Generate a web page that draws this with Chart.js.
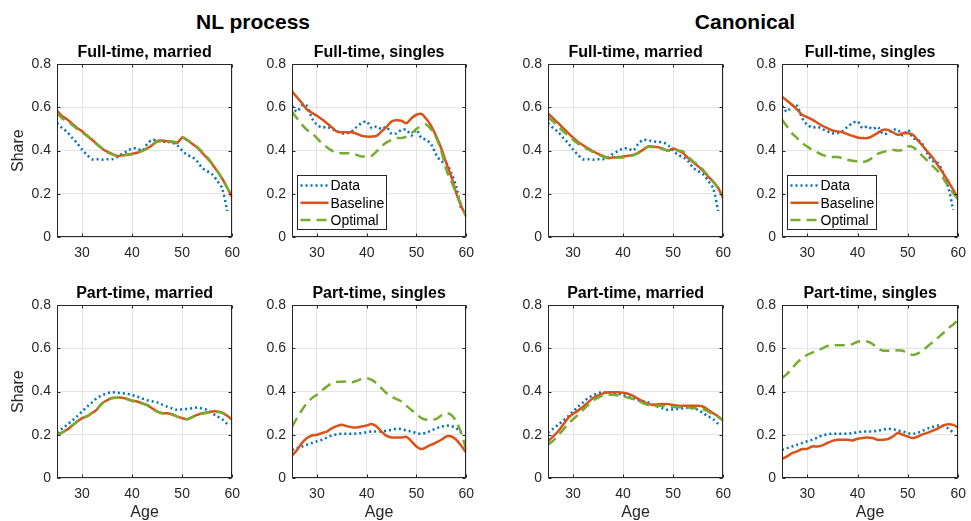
<!DOCTYPE html>
<html>
<head>
    <meta charset="utf-8"/>
    <title>Employment shares by age</title>
    <script src="https://cdn.jsdelivr.net/npm/chart.js"></script>
    <style>
        body {
            margin: 0;
            background-color: #ffffff;
            font-family: "Liberation Sans", Arial, Helvetica, sans-serif;
            overflow: hidden;
        }

        .page {
            position: relative;
            width: 971px;
            height: 521px;
        }

        .group-title {
            position: absolute;
            top: 10px;
            width: 300px;
            margin-left: -150px;
            text-align: center;
            font-size: 21px;
            line-height: 24px;
            font-weight: bold;
            color: #000000;
        }

        canvas {
            position: absolute;
        }
    </style>
</head>
<body>
    <div class="page" id="page">
        <div class="group-title" style="left: 253px;">NL process</div>
        <div class="group-title" style="left: 745px;">Canonical</div>
    </div>

    <script>
        // ages on the x axis
        const ages = [25, 26, 27, 28, 29, 30, 31, 32, 33, 34, 35, 36, 37, 38, 39, 40, 41, 42,
                      43, 44, 45, 46, 47, 48, 49, 50, 51, 52, 53, 54, 55, 56, 57, 58, 59, 60];
        const xTicks = [30, 40, 50, 60];
        const yTicks = [0, 0.2, 0.4, 0.6, 0.8];
        const seriesNames = ['Data', 'Baseline', 'Optimal'];

        // observed shares (same in both models)
        const dataFtMarried = [0.527, 0.505, 0.487, 0.46, 0.435, 0.405, 0.38, 0.36, 0.36, 0.358,
                               0.36, 0.36, 0.37, 0.385, 0.398, 0.41, 0.41, 0.40, 0.43, 0.45,
                               0.447, 0.443, 0.44, 0.438, 0.425, 0.40, 0.38, 0.37, 0.35, 0.32,
                               0.305, 0.29, 0.26, 0.225, 0.12, null];
        const dataFtSingles = [0.607, 0.58, 0.61, 0.607, 0.55, 0.52, 0.507, 0.51, 0.50, 0.489,
                               0.48, 0.48, 0.489, 0.51, 0.527, 0.535, 0.504, 0.512, 0.50, 0.51,
                               0.478, 0.48, 0.496, 0.496, 0.47, 0.496, 0.458, 0.45, 0.427, 0.38,
                               0.35, 0.342, 0.296, 0.234, 0.126, null];
        const dataPtMarried = [0.21, 0.228, 0.246, 0.265, 0.285, 0.308, 0.33, 0.35, 0.37, 0.383,
                               0.392, 0.397, 0.395, 0.393, 0.39, 0.384, 0.377, 0.368, 0.36, 0.355,
                               0.35, 0.34, 0.33, 0.322, 0.315, 0.318, 0.32, 0.323, 0.326, 0.322,
                               0.315, 0.30, 0.285, 0.272, 0.25, null];
        const dataPtSingles = [0.13, 0.138, 0.146, 0.154, 0.162, 0.17, 0.177, 0.187, 0.197, 0.202,
                               0.205, 0.205, 0.205, 0.206, 0.208, 0.212, 0.215, 0.215, 0.215, 0.219,
                               0.223, 0.228, 0.226, 0.22, 0.215, 0.208, 0.205, 0.21, 0.22, 0.23,
                               0.237, 0.243, 0.24, 0.23, 0.21, null];

        // NL process model
        const nlBaseFtMarried = [0.585, 0.56, 0.545, 0.525, 0.505, 0.49, 0.47, 0.45, 0.43, 0.41,
                                 0.395, 0.385, 0.375, 0.378, 0.382, 0.385, 0.39, 0.40, 0.41, 0.425,
                                 0.445, 0.447, 0.443, 0.44, 0.435, 0.46, 0.448, 0.432, 0.414, 0.39,
                                 0.365, 0.337, 0.305, 0.27, 0.228, 0.185];
        const nlOptFtMarried = [0.572, 0.55, 0.537, 0.52, 0.50, 0.485, 0.467, 0.448, 0.428, 0.41,
                                0.393, 0.383, 0.375, 0.377, 0.38, 0.383, 0.39, 0.398, 0.41, 0.425,
                                0.44, 0.445, 0.445, 0.442, 0.44, 0.462, 0.45, 0.435, 0.417, 0.395,
                                0.37, 0.34, 0.307, 0.27, 0.228, 0.185];
        const nlBaseFtSingles = [0.674, 0.647, 0.62, 0.59, 0.575, 0.561, 0.545, 0.527, 0.508, 0.489,
                                 0.485, 0.485, 0.485, 0.478, 0.468, 0.465, 0.465, 0.468, 0.489, 0.51,
                                 0.535, 0.54, 0.538, 0.527, 0.55, 0.566, 0.57, 0.546, 0.512, 0.465,
                                 0.41, 0.342, 0.28, 0.203, 0.142, 0.095];
        const nlOptFtSingles = [0.58, 0.55, 0.52, 0.496, 0.48, 0.458, 0.435, 0.416, 0.40, 0.39,
                                0.388, 0.388, 0.388, 0.38, 0.373, 0.373, 0.376, 0.396, 0.42, 0.438,
                                0.45, 0.458, 0.458, 0.465, 0.48, 0.50, 0.515, 0.52, 0.496, 0.458,
                                0.396, 0.311, 0.257, 0.203, 0.15, 0.095];
        const nlBasePtMarried = [0.20, 0.21, 0.223, 0.242, 0.26, 0.277, 0.285, 0.30, 0.318, 0.346,
                                 0.36, 0.37, 0.372, 0.372, 0.366, 0.358, 0.354, 0.346, 0.338, 0.323,
                                 0.308, 0.30, 0.30, 0.295, 0.285, 0.277, 0.272, 0.282, 0.292, 0.30,
                                 0.303, 0.308, 0.308, 0.303, 0.288, 0.27];
        const nlOptPtMarried = [0.198, 0.21, 0.225, 0.243, 0.262, 0.277, 0.287, 0.302, 0.32, 0.345,
                                0.36, 0.37, 0.371, 0.371, 0.366, 0.358, 0.353, 0.345, 0.336, 0.322,
                                0.307, 0.30, 0.299, 0.294, 0.284, 0.276, 0.272, 0.281, 0.29, 0.298,
                                0.302, 0.305, 0.306, 0.302, 0.288, 0.27];
        const nlBasePtSingles = [0.103, 0.13, 0.162, 0.185, 0.197, 0.20, 0.208, 0.215, 0.23, 0.24,
                                 0.246, 0.24, 0.235, 0.234, 0.238, 0.243, 0.25, 0.238, 0.215, 0.195,
                                 0.188, 0.188, 0.188, 0.19, 0.17, 0.146, 0.134, 0.143, 0.154, 0.165,
                                 0.177, 0.192, 0.192, 0.177, 0.149, 0.118];
        const nlOptPtSingles = [0.238, 0.277, 0.315, 0.346, 0.37, 0.385, 0.405, 0.423, 0.438, 0.445,
                                0.446, 0.446, 0.443, 0.45, 0.458, 0.462, 0.454, 0.438, 0.415, 0.392,
                                0.377, 0.365, 0.354, 0.334, 0.315, 0.297, 0.277, 0.27, 0.27, 0.274,
                                0.29, 0.30, 0.292, 0.262, 0.208, 0.13];

        // Canonical model
        const canBaseFtMarried = [0.573, 0.55, 0.528, 0.505, 0.482, 0.46, 0.44, 0.425, 0.41, 0.397,
                                  0.385, 0.375, 0.365, 0.368, 0.37, 0.373, 0.376, 0.38, 0.39, 0.404,
                                  0.419, 0.418, 0.416, 0.408, 0.40, 0.41, 0.40, 0.388, 0.365, 0.346,
                                  0.327, 0.305, 0.28, 0.255, 0.227, 0.18];
        const canOptFtMarried = [0.555, 0.535, 0.512, 0.49, 0.47, 0.45, 0.432, 0.418, 0.405, 0.393,
                                 0.382, 0.373, 0.367, 0.367, 0.368, 0.368, 0.372, 0.378, 0.388, 0.402,
                                 0.417, 0.416, 0.413, 0.407, 0.40, 0.404, 0.40, 0.396, 0.372, 0.35,
                                 0.334, 0.31, 0.283, 0.257, 0.225, 0.188];
        const canBaseFtSingles = [0.65, 0.631, 0.612, 0.59, 0.566, 0.555, 0.543, 0.529, 0.515, 0.504,
                                  0.493, 0.489, 0.485, 0.476, 0.468, 0.461, 0.458, 0.458, 0.468, 0.482,
                                  0.496, 0.496, 0.485, 0.473, 0.48, 0.48, 0.473, 0.447, 0.42, 0.392,
                                  0.365, 0.33, 0.296, 0.258, 0.219, 0.173];
        const canOptFtSingles = [0.543, 0.512, 0.48, 0.458, 0.435, 0.419, 0.404, 0.392, 0.38, 0.373,
                                 0.37, 0.37, 0.365, 0.358, 0.353, 0.35, 0.347, 0.353, 0.368, 0.385,
                                 0.393, 0.40, 0.404, 0.40, 0.404, 0.419, 0.416, 0.396, 0.373, 0.35,
                                 0.327, 0.304, 0.273, 0.234, 0.203, 0.173];
        const canBasePtMarried = [0.17, 0.192, 0.215, 0.246, 0.277, 0.297, 0.312, 0.33, 0.35, 0.37,
                                  0.382, 0.392, 0.397, 0.397, 0.397, 0.395, 0.39, 0.38, 0.366, 0.354,
                                  0.343, 0.338, 0.342, 0.343, 0.342, 0.338, 0.334, 0.334, 0.334, 0.334,
                                  0.334, 0.33, 0.315, 0.30, 0.285, 0.266];
        const canOptPtMarried = [0.154, 0.172, 0.197, 0.223, 0.25, 0.272, 0.292, 0.315, 0.338, 0.358,
                                 0.372, 0.382, 0.385, 0.385, 0.382, 0.377, 0.372, 0.366, 0.357, 0.346,
                                 0.338, 0.334, 0.334, 0.334, 0.33, 0.33, 0.328, 0.328, 0.326, 0.323,
                                 0.323, 0.318, 0.308, 0.292, 0.282, 0.266];
        const canBasePtSingles = [0.088, 0.10, 0.115, 0.123, 0.134, 0.135, 0.146, 0.146, 0.151, 0.162,
                                  0.172, 0.177, 0.177, 0.177, 0.174, 0.182, 0.185, 0.188, 0.185, 0.177,
                                  0.177, 0.18, 0.192, 0.208, 0.20, 0.192, 0.185, 0.192, 0.203, 0.21,
                                  0.22, 0.23, 0.243, 0.249, 0.246, 0.234];
        const canOptPtSingles = [0.462, 0.482, 0.508, 0.534, 0.554, 0.57, 0.58, 0.59, 0.60, 0.611,
                                 0.615, 0.615, 0.615, 0.615, 0.62, 0.631, 0.634, 0.632, 0.62, 0.60,
                                 0.59, 0.589, 0.589, 0.592, 0.589, 0.577, 0.57, 0.577, 0.592, 0.611,
                                 0.631, 0.65, 0.67, 0.692, 0.711, 0.731];

        // panel grid (plot area of each axes, in page pixels)
        const colLeft = [57, 292, 548, 782];
        const colWidth = [179, 178, 179, 180];
        const rowTop = [64, 305];
        const plotHeight = 173;

        const panels = [
            {col: 0, row: 0, title: 'Full-time, married', series: [dataFtMarried, nlBaseFtMarried, nlOptFtMarried]},
            {col: 1, row: 0, title: 'Full-time, singles', series: [dataFtSingles, nlBaseFtSingles, nlOptFtSingles], legend: true},
            {col: 2, row: 0, title: 'Full-time, married', series: [dataFtMarried, canBaseFtMarried, canOptFtMarried]},
            {col: 3, row: 0, title: 'Full-time, singles', series: [dataFtSingles, canBaseFtSingles, canOptFtSingles], legend: true},
            {col: 0, row: 1, title: 'Part-time, married', series: [dataPtMarried, nlBasePtMarried, nlOptPtMarried]},
            {col: 1, row: 1, title: 'Part-time, singles', series: [dataPtSingles, nlBasePtSingles, nlOptPtSingles]},
            {col: 2, row: 1, title: 'Part-time, married', series: [dataPtMarried, canBasePtMarried, canOptPtMarried]},
            {col: 3, row: 1, title: 'Part-time, singles', series: [dataPtSingles, canBasePtSingles, canOptPtSingles]}
        ];

        const lineStyles = [
            {color: '#0072BD', dash: [2, 3]},
            {color: '#D95319', dash: []},
            {color: '#77AC30', dash: [10, 6]}
        ];

        const axisColor = '#262626';
        const gridColor = '#e4e4e4';

        Chart.defaults.font.family = '"Liberation Sans", Arial, Helvetica, sans-serif';

        // matlab style box with inward ticks
        const axesBox = {
            id: 'axesBox',
            afterDatasetsDraw(chart) {
                const {ctx, chartArea: a, scales} = chart;
                const l = Math.round(a.left) + 0.5;
                const r = Math.round(a.right) - 0.5;
                const t = Math.round(a.top) + 0.5;
                const b = Math.round(a.bottom) - 0.5;
                ctx.save();
                ctx.strokeStyle = axisColor;
                ctx.lineWidth = 1;
                ctx.strokeRect(l, t, r - l, b - t);
                ctx.beginPath();
                xTicks.forEach(v => {
                    const px = Math.round(scales.x.getPixelForValue(v)) + 0.5;
                    ctx.moveTo(px, b); ctx.lineTo(px, b - 3);
                    ctx.moveTo(px, t); ctx.lineTo(px, t + 3);
                });
                yTicks.forEach(v => {
                    const py = Math.round(scales.y.getPixelForValue(v)) + 0.5;
                    ctx.moveTo(l, py); ctx.lineTo(l + 3, py);
                    ctx.moveTo(r, py); ctx.lineTo(r - 3, py);
                });
                ctx.stroke();
                ctx.restore();
            }
        };

        // legend box in the lower left corner of the plot
        const boxLegend = {
            id: 'boxLegend',
            afterDraw(chart, args, opts) {
                if (!opts.show) return;
                const {ctx, chartArea: a} = chart;
                const w = 89, h = 54;
                const bx = Math.round(a.left) + 5.5;
                const by = Math.round(a.bottom) - 7.5 - h;
                ctx.save();
                ctx.fillStyle = '#ffffff';
                ctx.fillRect(bx, by, w, h);
                ctx.strokeStyle = axisColor;
                ctx.lineWidth = 1;
                ctx.strokeRect(bx, by, w, h);
                ctx.font = '14px "Liberation Sans", Arial, sans-serif';
                ctx.textBaseline = 'middle';
                chart.data.datasets.forEach((ds, i) => {
                    const cy = by + 10 + i * 17.3;
                    ctx.strokeStyle = ds.borderColor;
                    ctx.lineWidth = ds.borderWidth;
                    ctx.setLineDash(ds.borderDash);
                    ctx.beginPath();
                    ctx.moveTo(bx + 3, cy);
                    ctx.lineTo(bx + 31, cy);
                    ctx.stroke();
                    ctx.setLineDash([]);
                    ctx.fillStyle = '#000000';
                    ctx.fillText(ds.label, bx + 33, cy + 1);
                });
                ctx.restore();
            }
        };

        const page = document.getElementById('page');

        panels.forEach(p => {
            const yW = p.col === 0 ? 57 : 46;
            const xH = p.row === 0 ? 22 : 44;
            const titleH = 24;
            const padR = 12;
            const canvas = document.createElement('canvas');
            const w = yW + colWidth[p.col] + padR;
            const h = titleH + plotHeight + xH;
            canvas.width = w;
            canvas.height = h;
            canvas.style.width = w + 'px';
            canvas.style.height = h + 'px';
            canvas.style.left = (colLeft[p.col] - yW) + 'px';
            canvas.style.top = (rowTop[p.row] - titleH) + 'px';
            page.appendChild(canvas);

            const datasets = p.series.map((vals, i) => ({
                label: seriesNames[i],
                data: ages.map((a, k) => ({x: a, y: vals[k]})),
                borderColor: lineStyles[i].color,
                borderDash: lineStyles[i].dash,
                borderWidth: 2.5,
                borderCapStyle: 'butt',
                pointRadius: 0,
                tension: 0.3,
                spanGaps: false,
                order: 3 - i
            }));

            new Chart(canvas.getContext('2d'), {
                type: 'line',
                data: {datasets: datasets},
                plugins: [axesBox, boxLegend],
                options: {
                    responsive: false,
                    animation: false,
                    devicePixelRatio: 1,
                    layout: {padding: {left: 0, right: padR, top: 0, bottom: 0}},
                    plugins: {
                        legend: {display: false},
                        tooltip: {enabled: false},
                        boxLegend: {show: !!p.legend},
                        title: {
                            display: true,
                            fullSize: false,
                            text: p.title,
                            color: '#000000',
                            font: {size: 16, weight: 'bold'},
                            padding: {top: 3, bottom: 2}
                        }
                    },
                    scales: {
                        x: {
                            type: 'linear',
                            min: 25,
                            max: 60,
                            afterBuildTicks: s => { s.ticks = xTicks.map(v => ({value: v})); },
                            afterFit: s => { s.height = xH; },
                            grid: {color: gridColor, drawTicks: false},
                            border: {display: false},
                            ticks: {padding: 8, color: axisColor, font: {size: 14}, maxRotation: 0, autoSkip: false},
                            title: {display: p.row === 1, text: 'Age', color: axisColor, font: {size: 16}, padding: {top: 0, bottom: 0}}
                        },
                        y: {
                            min: 0,
                            max: 0.8,
                            afterBuildTicks: s => { s.ticks = yTicks.map(v => ({value: v})); },
                            afterFit: s => { s.width = yW; },
                            grid: {color: gridColor, drawTicks: false},
                            border: {display: false},
                            ticks: {
                                padding: 6,
                                color: axisColor,
                                font: {size: 14},
                                callback: v => (v === 0 ? '0' : v.toFixed(1))
                            },
                            title: {display: p.col === 0, text: 'Share', color: axisColor, font: {size: 16}, padding: {top: 9, bottom: 0}}
                        }
                    }
                }
            });
        });
    </script>
</body>
</html>
